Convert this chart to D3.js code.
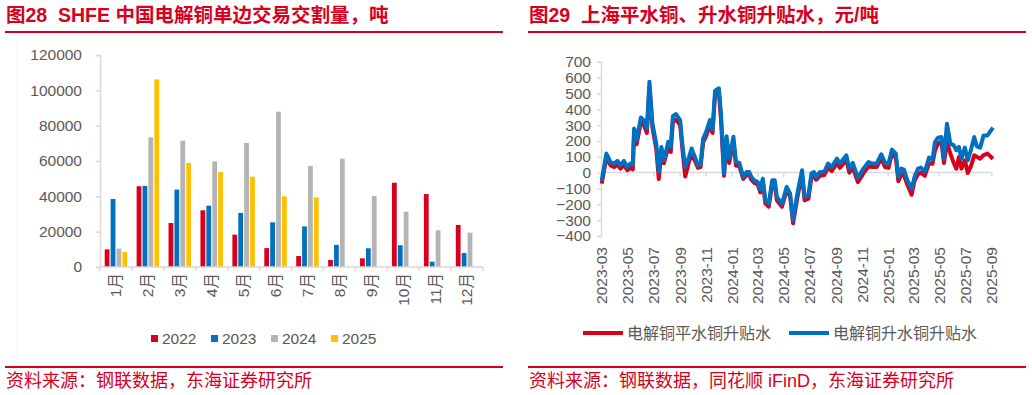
<!DOCTYPE html>
<html>
<head>
<meta charset="utf-8">
<script src="https://cdn.jsdelivr.net/npm/d3@7"></script>
<style>
  body { margin: 0; background: #fff; }
  svg { display: block; font-family: "Liberation Sans", "Noto Sans CJK SC", sans-serif; }
</style>
</head>
<body>
<svg id="chart" width="1032" height="395"></svg>
<script>
// left panel: SHFE delivery volume, tons
var months = ["1月", "2月", "3月", "4月", "5月", "6月", "7月", "8月", "9月", "10月", "11月", "12月"];
var years = ["2022", "2023", "2024", "2025"];
var vol2022 = [10000, 45700, 24900, 32100, 18300, 10700, 6200, 4000, 4900, 47700, 41300, 23800];
var vol2023 = [38500, 45900, 43800, 34700, 30600, 25300, 23000, 12500, 10600, 12300, 3000, 7900];
var vol2024 = [10400, 73400, 71500, 59800, 70200, 87900, 57200, 61300, 40200, 31300, 20800, 19400];
var vol2025 = [8500, 106200, 58900, 53800, 51100, 40000, 39400, null, null, null, null, null];
var yTicksLeft = [0, 20000, 40000, 60000, 80000, 100000, 120000];

// right panel: premium / discount, yuan per ton
var dates = ["2023-03-01", "2023-03-12", "2023-03-22", "2023-03-30", "2023-04-07", "2023-04-14", "2023-04-22", "2023-04-30",
  "2023-05-07", "2023-05-13", "2023-05-16", "2023-05-22", "2023-06-01", "2023-06-08", "2023-06-15", "2023-06-21",
  "2023-06-28", "2023-07-07", "2023-07-13", "2023-07-19", "2023-07-25", "2023-08-04", "2023-08-10", "2023-08-15",
  "2023-08-22", "2023-09-01", "2023-09-07", "2023-09-13", "2023-09-22", "2023-09-28", "2023-10-04", "2023-10-13",
  "2023-10-19", "2023-10-25", "2023-11-01", "2023-11-10", "2023-11-16", "2023-11-22", "2023-12-01", "2023-12-06",
  "2023-12-13", "2023-12-19", "2023-12-25", "2024-01-04", "2024-01-10", "2024-01-18", "2024-01-27", "2024-02-04",
  "2024-02-10", "2024-02-15", "2024-02-22", "2024-03-01", "2024-03-07", "2024-03-13", "2024-03-19", "2024-03-27",
  "2024-04-04", "2024-04-10", "2024-04-15", "2024-04-27", "2024-05-08", "2024-05-16", "2024-05-23", "2024-06-02",
  "2024-06-13", "2024-06-19", "2024-06-28", "2024-07-05", "2024-07-11", "2024-07-16", "2024-07-25", "2024-08-04",
  "2024-08-13", "2024-08-22", "2024-09-03", "2024-09-10", "2024-09-25", "2024-10-02", "2024-10-10", "2024-10-22",
  "2024-11-04", "2024-11-16", "2024-11-25", "2024-12-05", "2024-12-16", "2024-12-25", "2025-01-02", "2025-01-10",
  "2025-01-19", "2025-01-25", "2025-02-01", "2025-02-07", "2025-02-15", "2025-02-25", "2025-03-04", "2025-03-12",
  "2025-03-19", "2025-03-28", "2025-04-07", "2025-04-15", "2025-04-21", "2025-04-28", "2025-05-06", "2025-05-12",
  "2025-05-19", "2025-05-27", "2025-06-04", "2025-06-10", "2025-06-16", "2025-06-22", "2025-06-30", "2025-07-07",
  "2025-07-15", "2025-07-22", "2025-07-28", "2025-08-05", "2025-08-13", "2025-08-22", "2025-09-04"];
var premiumCu = [-50, 120, 65, 57, 74, 46, 74, 36, 57, 50, 278, 205, 348, 330, 278, 574,
  310, 183, 4, 162, 78, 194, 162, 356, 370, 331, 162, 36, 99, 152, 110, 46,
  53, 215, 257, 331, 272, 517, 532, 363, -6, 230, 89, 226, 68, 61, -27, 4,
  4, -27, -48, -59, -108, -38, -175, -196, -48, -48, -154, -196, -90, -132, -300, -132,
  15, -154, -143, -6, 4, -27, 4, 4, 57, 36, 88, 57, 109, 25, 61, -32,
  25, 67, 57, 57, 116, 61, 57, 145, 120, -27, 25, 19, -48, -101, -27, 25,
  32, 4, 95, 82, 193, 221, 225, 88, 309, 183, 172, 141, 162, 88, 158, 78,
  150, 225, 166, 158, 235, 235, 284];
var flatCu = [-70, 95, 45, 35, 50, 25, 50, 15, 30, 20, 255, 180, 320, 300, 250, 540,
  285, 150, -40, 130, 60, 160, 130, 320, 335, 300, 130, -25, 70, 120, 85, 30,
  35, 190, 230, 300, 250, 490, 505, 330, -20, 200, 60, 200, 45, 40, -40, -15,
  -15, -45, -65, -75, -125, -60, -195, -215, -75, -70, -175, -215, -110, -150, -320, -160,
  -10, -175, -165, -30, -20, -45, -20, -15, 30, 10, 60, 30, 80, 0, 35, -60,
  -5, 40, 35, 35, 90, 35, 30, 120, 95, -55, -10, -15, -75, -140, -50, -10,
  0, -20, 60, 55, 140, 183, 195, 61, 193, 120, 60, 25, 99, 25, 78, -2,
  46, 109, 100, 88, 110, 120, 88];
var yTicksRight = [-400, -300, -200, -100, 0, 100, 200, 300, 400, 500, 600, 700];

var RED = "#d9001b", BLUE = "#0070c0", GRAY = "#b4b4b4", YELLOW = "#ffc000";
var TEXT = "#595959", AXIS = "#d9d9d9", TITLE = "#d7001d";
var fs = 15.5;

var svg = d3.select("#chart");

// panel frames: title, rules, source
function frame(x0, x1, title, source) {
  svg.append("text").attr("x", x0 + 1).attr("y", 22)
    .attr("fill", TITLE).attr("font-size", 19.5).attr("font-weight", "bold")
    .attr("xml:space", "preserve").text(title);
  svg.append("line").attr("x1", x0).attr("x2", x1).attr("y1", 32).attr("y2", 32)
    .attr("stroke", TITLE).attr("stroke-width", 1.8);
  svg.append("line").attr("x1", x0).attr("x2", x1).attr("y1", 367).attr("y2", 367)
    .attr("stroke", TITLE).attr("stroke-width", 1.8);
  svg.append("text").attr("x", x0 + 1).attr("y", 387)
    .attr("fill", TITLE).attr("font-size", 18).text(source);
}
frame(5, 503, "图28  SHFE 中国电解铜单边交易交割量，吨", "资料来源：钢联数据，东海证券研究所");
frame(528, 1026, "图29  上海平水铜、升水铜升贴水，元/吨", "资料来源：钢联数据，同花顺 iFinD，东海证券研究所");

// faint chart-area edge on the left panel
svg.append("line").attr("x1", 17).attr("x2", 17).attr("y1", 40).attr("y2", 360)
  .attr("stroke", "#f3f3f3");

// ---------- left: grouped bars ----------
var x0 = d3.scaleBand().domain(months).range([100, 483]);
var x1 = d3.scaleBand().domain(years).range([0, x0.bandwidth()]).paddingInner(0.19).paddingOuter(0.8);
var yL = d3.scaleLinear().domain([0, 120000]).range([267, 55]);
var seriesL = [vol2022, vol2023, vol2024, vol2025];
var colorsL = [RED, BLUE, GRAY, YELLOW];

var gL = svg.append("g");
seriesL.forEach(function (vals, si) {
  gL.append("g").selectAll("rect")
    .data(months.map(function (m, i) { return { m: m, v: vals[i] }; }).filter(function (d) { return d.v != null; }))
    .enter().append("rect")
    .attr("x", function (d) { return x0(d.m) + x1(years[si]); })
    .attr("width", x1.bandwidth())
    .attr("y", function (d) { return yL(d.v); })
    .attr("height", function (d) { return yL(0) - yL(d.v); })
    .attr("fill", colorsL[si]);
});

// y axis
var yAxL = gL.append("g").attr("transform", "translate(100,0)")
  .call(d3.axisLeft(yL).tickValues(yTicksLeft).tickSize(4).tickPadding(14).tickFormat(d3.format("d")));
// x axis, ticks at category edges
gL.append("line").attr("x1", 100).attr("x2", 483).attr("y1", yL(0)).attr("y2", yL(0))
  .attr("stroke", AXIS).attr("stroke-width", 1.5);
gL.append("g").selectAll("line")
  .data(d3.range(months.length + 1))
  .enter().append("line")
  .attr("x1", function (i) { return 100 + i * x0.step(); })
  .attr("x2", function (i) { return 100 + i * x0.step(); })
  .attr("y1", yL(0)).attr("y2", yL(0) + 4)
  .attr("stroke", AXIS).attr("stroke-width", 1.5);
gL.append("g").selectAll("text")
  .data(months).enter().append("text")
  .attr("transform", function (d) { return "translate(" + (x0(d) + x0.bandwidth() / 2) + ",273) rotate(-90)"; })
  .attr("dy", "0.35em").attr("text-anchor", "end")
  .attr("font-size", fs).attr("fill", TEXT).text(function (d) { return d; });

// legend
var legL = svg.append("g").selectAll("g").data(years).enter().append("g")
  .attr("transform", function (d, i) { return "translate(" + (151 + i * 60) + ",335)"; });
legL.append("rect").attr("width", 7).attr("height", 7).attr("fill", function (d, i) { return colorsL[i]; });
legL.append("text").attr("x", 11).attr("y", 8.5).attr("font-size", fs).attr("fill", TEXT).text(function (d) { return d; });

// ---------- right: lines ----------
var parse = d3.timeParse("%Y-%m-%d");
var xR = d3.scaleTime().domain([parse("2023-03-01"), parse("2025-09-01")]).range([601.7, 991.7]);
var yR = d3.scaleLinear().domain([-400, 700]).range([236, 61.7]);
var gR = svg.append("g");

var yAxR = gR.append("g").attr("transform", "translate(601,0)")
  .call(d3.axisLeft(yR).tickValues(yTicksRight).tickSize(4).tickPadding(6));

var xTicks = xR.ticks(d3.timeMonth.every(2));
gR.append("line").attr("x1", 601).attr("x2", 993).attr("y1", yR(0)).attr("y2", yR(0))
  .attr("stroke", AXIS).attr("stroke-width", 1.5);
gR.append("g").selectAll("line").data(xTicks).enter().append("line")
  .attr("x1", function (d) { return xR(d); }).attr("x2", function (d) { return xR(d); })
  .attr("y1", yR(0)).attr("y2", yR(0) + 4)
  .attr("stroke", AXIS).attr("stroke-width", 1.5);
gR.append("g").selectAll("text").data(xTicks).enter().append("text")
  .attr("transform", function (d) { return "translate(" + xR(d) + ",247) rotate(-90)"; })
  .attr("dy", "0.35em").attr("text-anchor", "end")
  .attr("font-size", fs).attr("fill", TEXT).text(d3.timeFormat("%Y-%m"));

[yAxL, yAxR].forEach(function (ax) {
  ax.select(".domain").attr("stroke", AXIS).attr("stroke-width", 1.5);
  ax.selectAll(".tick line").attr("stroke", AXIS).attr("stroke-width", 1.5);
  ax.selectAll(".tick text").attr("fill", TEXT).attr("font-size", fs)
    .attr("font-family", "Liberation Sans, sans-serif");
});

var line = d3.line()
  .x(function (d) { return xR(d.date); })
  .y(function (d) { return yR(d.v); });
function pts(vals) { return dates.map(function (s, i) { return { date: parse(s), v: vals[i] }; }); }

gR.append("path").datum(pts(flatCu)).attr("d", line)
  .attr("fill", "none").attr("stroke", RED).attr("stroke-width", 4).attr("stroke-linejoin", "round");
gR.append("path").datum(pts(premiumCu)).attr("d", line)
  .attr("fill", "none").attr("stroke", BLUE).attr("stroke-width", 4).attr("stroke-linejoin", "round");

// legend
var legR = svg.append("g").selectAll("g")
  .data([{ name: "电解铜平水铜升贴水", c: RED, x: 583 }, { name: "电解铜升水铜升贴水", c: BLUE, x: 789 }])
  .enter().append("g").attr("transform", function (d) { return "translate(" + d.x + ",333)"; });
legR.append("line").attr("x1", 0).attr("x2", 40).attr("stroke", function (d) { return d.c; })
  .attr("stroke-width", 4);
legR.append("text").attr("x", 44).attr("y", 5.5).attr("font-size", 16).attr("fill", TEXT)
  .text(function (d) { return d.name; });
</script>
</body>
</html>
